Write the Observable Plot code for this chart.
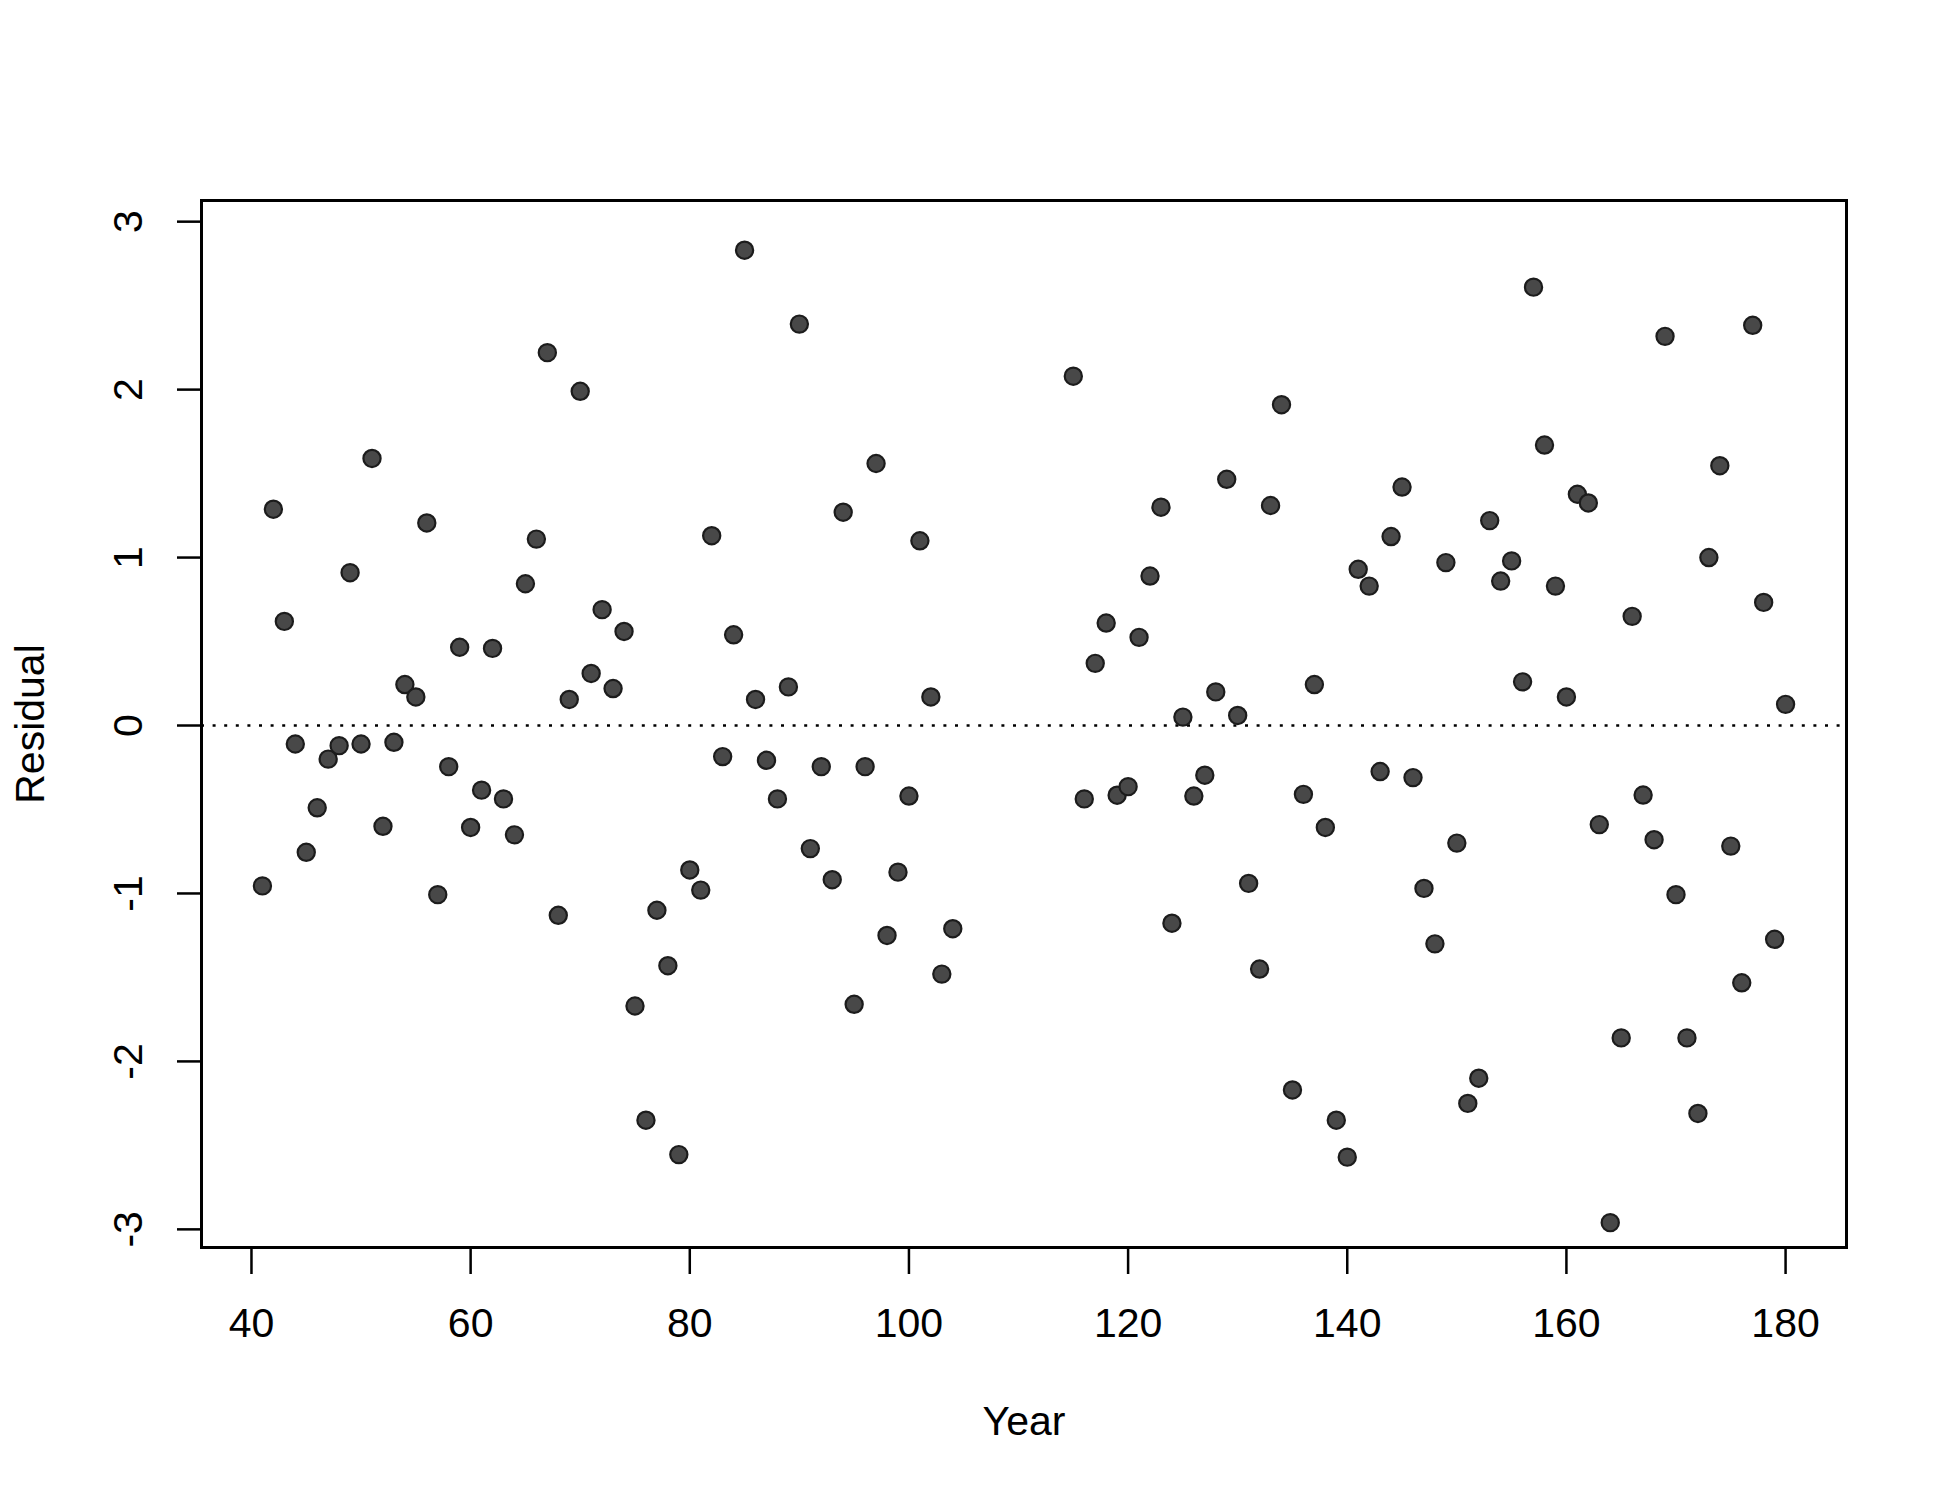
<!DOCTYPE html>
<html>
<head>
<meta charset="utf-8">
<script src="https://cdn.jsdelivr.net/npm/d3@7"></script>
<script src="https://cdn.jsdelivr.net/npm/@observablehq/plot@0.6"></script>
<style>
  html, body { margin: 0; padding: 0; background: white; }
  #chart { width: 1950px; height: 1500px; }
</style>
</head>
<body>
<div id="chart"></div>
<script>
const years = [
  41, 42, 43, 44, 45, 46, 47, 48, 49, 50, 51, 52, 53, 54, 55, 56, 57, 58, 59, 60,
  61, 62, 63, 64, 65, 66, 67, 68, 69, 70, 71, 72, 73, 74, 75, 76, 77, 78, 79, 80,
  81, 82, 83, 84, 85, 86, 87, 88, 89, 90, 91, 92, 93, 94, 95, 96, 97, 98, 99, 100,
  101, 102, 103, 104,
  115, 116, 117, 118, 119, 120, 121, 122, 123, 124, 125, 126, 127, 128, 129, 130,
  131, 132, 133, 134, 135, 136, 137, 138, 139, 140, 141, 142, 143, 144, 145, 146,
  147, 148, 149, 150, 151, 152, 153, 154, 155, 156, 157, 158, 159, 160, 161, 162,
  163, 164, 165, 166, 167, 168, 169, 170, 171, 172, 173, 174, 175, 176, 177, 178,
  179, 180
];
const residuals = [
  -0.955, 1.288, 0.62, -0.11, -0.755, -0.49, -0.2, -0.12, 0.91, -0.11, 1.59, -0.6, -0.1, 0.244, 0.17, 1.206, -1.007, -0.245, 0.466, -0.607,
  -0.385, 0.459, -0.437, -0.651, 0.844, 1.11, 2.22, -1.13, 0.155, 1.99, 0.31, 0.69, 0.22, 0.56, -1.67, -2.35, -1.10, -1.43, -2.555, -0.86,
  -0.98, 1.13, -0.185, 0.54, 2.83, 0.155, -0.207, -0.437, 0.23, 2.39, -0.733, -0.245, -0.918, 1.27, -1.66, -0.245, 1.56, -1.25, -0.873, -0.42,
  1.10, 0.17, -1.48, -1.21,
  2.08, -0.437, 0.37, 0.61, -0.415, -0.364, 0.525, 0.89, 1.30, -1.177, 0.05, -0.42, -0.296, 0.2, 1.466, 0.06,
  -0.94, -1.45, 1.31, 1.91, -2.17, -0.41, 0.244, -0.607, -2.35, -2.57, 0.93, 0.83, -0.274, 1.125, 1.42, -0.31,
  -0.97, -1.30, 0.97, -0.70, -2.25, -2.10, 1.22, 0.86, 0.98, 0.26, 2.61, 1.67, 0.83, 0.17, 1.377, 1.325,
  -0.59, -2.96, -1.86, 0.65, -0.414, -0.68, 2.317, -1.007, -1.86, -2.31, 1.0, 1.547, -0.718, -1.532, 2.383, 0.733,
  -1.273, 0.126
];
const xTicks = [40, 60, 80, 100, 120, 140, 160, 180];
const yTicks = [-3, -2, -1, 0, 1, 2, 3];
const xLabel = "Year";
const yLabel = "Residual";

const data = years.map((y, i) => ({year: y, residual: residuals[i]}));
const font = "'Liberation Sans', Arial, Helvetica, sans-serif";

const chart = Plot.plot({
  width: 1950,
  height: 1500,
  marginLeft: 201,
  marginRight: 104,
  marginTop: 200,
  marginBottom: 253,
  style: {fontFamily: font, fontSize: "41px", background: "white", color: "black"},
  x: {domain: [35.44, 185.56], axis: null},
  y: {domain: [-3.108, 3.126], axis: null},
  marks: [
    Plot.ruleY([0], {stroke: "black", strokeWidth: 2.6, strokeDasharray: "3,8.6"}),
    Plot.dot(data, {
      x: "year", y: "residual", r: 8.6,
      fill: "#484848",
      stroke: "#1c1c1c", strokeWidth: 2.2
    }),
    Plot.frame({stroke: "black", strokeWidth: 3}),
    Plot.axisX(xTicks, {anchor: "bottom", tickSize: 27, strokeWidth: 2.5, tickFormat: () => "", label: null}),
    Plot.axisY(yTicks, {anchor: "left", tickSize: 24, strokeWidth: 2.5, tickFormat: () => "", label: null}),
    Plot.text(xTicks, {x: d => d, text: d => String(d), frameAnchor: "bottom", dy: 76, lineAnchor: "middle", fontSize: 41, fill: "black"}),
    Plot.text(yTicks, {y: d => d, text: d => String(d), frameAnchor: "left", dx: -73, rotate: -90, lineAnchor: "middle", textAnchor: "middle", fontSize: 41, fill: "black"}),
    Plot.text([xLabel], {text: d => d, frameAnchor: "bottom", dy: 174, lineAnchor: "middle", fontSize: 41, fill: "black"}),
    Plot.text([yLabel], {text: d => d, frameAnchor: "left", dx: -171, rotate: -90, lineAnchor: "middle", textAnchor: "middle", fontSize: 41, fill: "black"})
  ]
});
document.getElementById("chart").appendChild(chart);
</script>
</body>
</html>
